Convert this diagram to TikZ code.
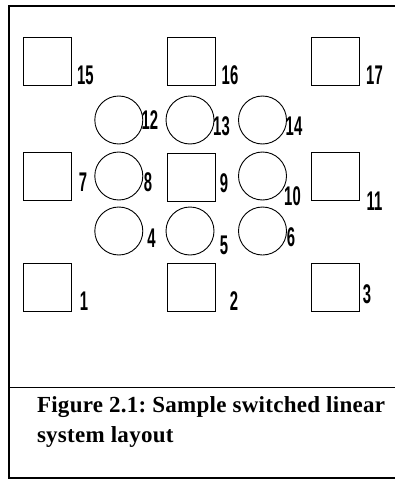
\documentclass[tikz,border=0pt]{standalone}
\usepackage{fontspec}
\setmainfont{Liberation Serif}
\newfontfamily\numfont{Liberation Sans}
\newfontfamily\capfont[LetterSpace=1.2]{Liberation Serif}
\usepackage{tikz}
\frenchspacing

\tikzset{
  sq/.style={draw=black,line width=0.9pt,minimum width=48pt,minimum height=48pt,inner sep=0pt,outer sep=0pt},
  circ/.style={draw=black,line width=0.9pt,circle,minimum size=48pt,inner sep=0pt,outer sep=0pt},
  numlbl/.style={inner sep=0pt,outer sep=0pt,anchor=center,font=\numfont\bfseries\fontsize{27}{27}\selectfont},
  caption/.style={inner sep=0pt,outer sep=0pt,anchor=base west,font=\capfont\bfseries\fontsize{23}{27}\selectfont}
}
\newcommand{\nm}[1]{\scalebox{0.55}[1]{#1}}

\begin{document}
\begin{tikzpicture}[x=1pt,y=-1pt]
\path[use as bounding box] (0,0) rectangle (395,479);
\path[fill=white,draw=none] (0,0) rectangle (395,479);
% frame
\draw[line width=1.2pt] (396,6) -- (9,6) -- (9,478) -- (396,478);
\draw[line width=1pt] (9,387) -- (396,387);
% squares
\node[sq] (s15) at (47,61) {};
\node[sq] (s16) at (191,61) {};
\node[sq] (s17) at (335,61) {};
\node[sq] (s7) at (47,176) {};
\node[sq] (s9) at (191,177.5) {};
\node[sq] (s11) at (335,176) {};
\node[sq] (s1) at (47,287.5) {};
\node[sq] (s2) at (191,287.5) {};
\node[sq] (s3) at (335,287.5) {};
% circles
\node[circ] (c12) at (118.8,120) {};
\node[circ] (c13) at (190,120) {};
\node[circ] (c14) at (262.5,120) {};
\node[circ] (c8) at (118.8,176) {};
\node[circ] (c10) at (262.5,176) {};
\node[circ] (c4) at (118.8,231) {};
\node[circ] (c5) at (190,231) {};
\node[circ] (c6) at (262.5,231) {};
% labels
\node[numlbl] (l15) at (85.5,75) {\nm{15}};
\node[numlbl] (l16) at (230,75) {\nm{16}};
\node[numlbl] (l17) at (374.5,75) {\nm{17}};
\node[numlbl] (l12) at (150,120) {\nm{12}};
\node[numlbl] (l13) at (221.5,126) {\nm{13}};
\node[numlbl] (l14) at (294,126) {\nm{14}};
\node[numlbl] (l7) at (83,182) {\nm{7}};
\node[numlbl] (l8) at (148,182) {\nm{8}};
\node[numlbl] (l9) at (224,183) {\nm{9}};
\node[numlbl] (l10) at (292.5,196) {\nm{10}};
\node[numlbl] (l11) at (374.5,201) {\nm{11}};
\node[numlbl] (l4) at (151.5,238) {\nm{4}};
\node[numlbl] (l5) at (224,245) {\nm{5}};
\node[numlbl] (l6) at (291,237) {\nm{6}};
\node[numlbl] (l1) at (84,301) {\nm{1}};
\node[numlbl] (l2) at (234,301) {\nm{2}};
\node[numlbl] (l3) at (367,294) {\nm{3}};
% caption
\node[caption] (cap1) at (37,412) {Figure 2.1: Sample switched linear};
\node[caption] (cap2) at (37,442) {system layout};
\end{tikzpicture}
\end{document}
